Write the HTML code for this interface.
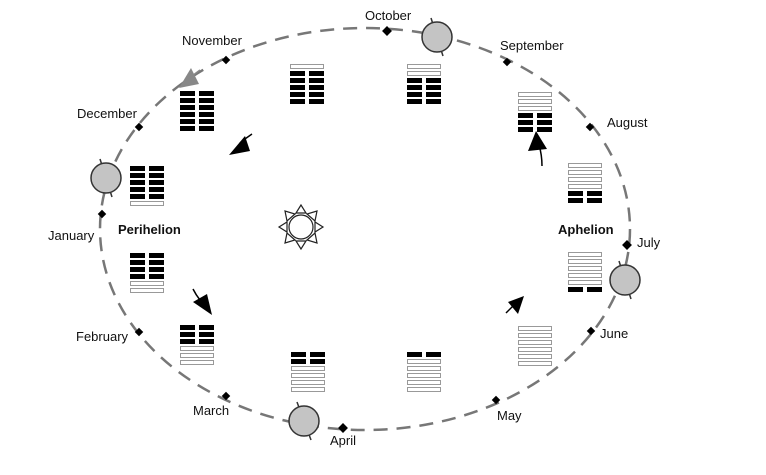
<!DOCTYPE html>
<html><head><style>body{margin:0;background:#fff}svg{display:block}text{font-family:"Liberation Sans",sans-serif;font-size:13px;fill:#111}</style></head><body>
<svg width="766" height="475" viewBox="0 0 766 475">
<defs>
<g id="B"><rect x="0" y="0" width="15" height="5" fill="#000"/><rect x="19" y="0" width="15" height="5" fill="#000"/></g>
<g id="H"><rect x="0.5" y="0.5" width="33" height="4" fill="#fff" stroke="#999" stroke-width="1"/></g>
</defs>
<ellipse cx="365" cy="229" rx="265" ry="201" fill="none" stroke="#777" stroke-width="2.5" stroke-dasharray="14,9"/>
<g transform="translate(180,91)"><use href="#B" y="0"/><use href="#B" y="7"/><use href="#B" y="14"/><use href="#B" y="21"/><use href="#B" y="28"/><use href="#B" y="35"/></g>
<g transform="translate(290,64)"><use href="#H" y="0"/><use href="#B" y="7"/><use href="#B" y="14"/><use href="#B" y="21"/><use href="#B" y="28"/><use href="#B" y="35"/></g>
<g transform="translate(407,64)"><use href="#H" y="0"/><use href="#H" y="7"/><use href="#B" y="14"/><use href="#B" y="21"/><use href="#B" y="28"/><use href="#B" y="35"/></g>
<g transform="translate(518,92)"><use href="#H" y="0"/><use href="#H" y="7"/><use href="#H" y="14"/><use href="#B" y="21"/><use href="#B" y="28"/><use href="#B" y="35"/></g>
<g transform="translate(568,163)"><use href="#H" y="0"/><use href="#H" y="7"/><use href="#H" y="14"/><use href="#H" y="21"/><use href="#B" y="28"/><use href="#B" y="35"/></g>
<g transform="translate(568,252)"><use href="#H" y="0"/><use href="#H" y="7"/><use href="#H" y="14"/><use href="#H" y="21"/><use href="#H" y="28"/><use href="#B" y="35"/></g>
<g transform="translate(518,326)"><use href="#H" y="0"/><use href="#H" y="7"/><use href="#H" y="14"/><use href="#H" y="21"/><use href="#H" y="28"/><use href="#H" y="35"/></g>
<g transform="translate(407,352)"><use href="#B" y="0"/><use href="#H" y="7"/><use href="#H" y="14"/><use href="#H" y="21"/><use href="#H" y="28"/><use href="#H" y="35"/></g>
<g transform="translate(291,352)"><use href="#B" y="0"/><use href="#B" y="7"/><use href="#H" y="14"/><use href="#H" y="21"/><use href="#H" y="28"/><use href="#H" y="35"/></g>
<g transform="translate(180,325)"><use href="#B" y="0"/><use href="#B" y="7"/><use href="#B" y="14"/><use href="#H" y="21"/><use href="#H" y="28"/><use href="#H" y="35"/></g>
<g transform="translate(130,253)"><use href="#B" y="0"/><use href="#B" y="7"/><use href="#B" y="14"/><use href="#B" y="21"/><use href="#H" y="28"/><use href="#H" y="35"/></g>
<g transform="translate(130,166)"><use href="#B" y="0"/><use href="#B" y="7"/><use href="#B" y="14"/><use href="#B" y="21"/><use href="#B" y="28"/><use href="#H" y="35"/></g>
<g stroke="#333" stroke-width="1.5">
<line x1="431" y1="18" x2="443" y2="56"/><circle cx="437" cy="37" r="15" fill="#c4c4c4"/>
<line x1="619" y1="261" x2="631" y2="299"/><circle cx="625" cy="280" r="15" fill="#c4c4c4"/>
<line x1="100" y1="159" x2="112" y2="197"/><circle cx="106" cy="178" r="15" fill="#c4c4c4"/>
<line x1="297" y1="402" x2="311" y2="440"/><circle cx="304" cy="421" r="15" fill="#c4c4c4"/>
</g>
<g fill="#000">
<rect x="-3.5" y="-3.5" width="7" height="7" transform="translate(387,31) rotate(45)"/>
<rect x="-3" y="-3" width="6" height="6" transform="translate(507,62) rotate(45)"/>
<rect x="-3" y="-3" width="6" height="6" transform="translate(590,127) rotate(45)"/>
<rect x="-3.5" y="-3.5" width="7" height="7" transform="translate(627,245) rotate(45)"/>
<rect x="-3" y="-3" width="6" height="6" transform="translate(591,331) rotate(45)"/>
<rect x="-3" y="-3" width="6" height="6" transform="translate(496,400) rotate(45)"/>
<rect x="-3.5" y="-3.5" width="7" height="7" transform="translate(343,428) rotate(45)"/>
<rect x="-3" y="-3" width="6" height="6" transform="translate(226,396) rotate(45)"/>
<rect x="-3" y="-3" width="6" height="6" transform="translate(139,332) rotate(45)"/>
<rect x="-3" y="-3" width="6" height="6" transform="translate(102,214) rotate(45)"/>
<rect x="-3" y="-3" width="6" height="6" transform="translate(139,127) rotate(45)"/>
<rect x="-3" y="-3" width="6" height="6" transform="translate(226,60) rotate(45)"/>
</g>
<g fill="#fff" stroke="#222" stroke-width="1.2">
<polygon points="301,205 296,213 306,213"/><polygon points="301,249 296,241 306,241"/>
<polygon points="279,227 287,222 287,232"/><polygon points="323,227 315,222 315,232"/>
<polygon points="285,211 287,221 295,214"/><polygon points="317,211 315,221 307,214"/>
<polygon points="285,243 287,233 295,240"/><polygon points="317,243 315,233 307,240"/>
<circle cx="301" cy="227" r="12"/>
</g>
<g stroke="#000" stroke-width="1.5" fill="none">
<path d="M252,134 Q246,138 240,143"/><path d="M193,289 Q196,295 200,300"/>
<path d="M506,313 Q510,309 514,305"/><path d="M542,166 Q542,155 539,145"/>
<path d="M200,70 L192,76" stroke="#888"/>
</g>
<polygon points="229,155 245,136 250,151" fill="#000"/>
<polygon points="212,315 193,302 207,294" fill="#000"/>
<polygon points="524,296 508,302 518,314" fill="#000"/>
<polygon points="536,131 528,151 547,149" fill="#000"/>
<polygon points="179,88 191,68 199,84" fill="#888"/>
<text x="365" y="20">October</text>
<text x="182" y="45">November</text>
<text x="500" y="50">September</text>
<text x="77" y="118">December</text>
<text x="607" y="127">August</text>
<text x="48" y="240">January</text>
<text x="118" y="234" font-weight="bold">Perihelion</text>
<text x="558" y="234" font-weight="bold">Aphelion</text>
<text x="637" y="247">July</text>
<text x="76" y="341">February</text>
<text x="600" y="338">June</text>
<text x="193" y="415">March</text>
<text x="497" y="420">May</text>
<text x="330" y="445">April</text>
</svg>
</body></html>
